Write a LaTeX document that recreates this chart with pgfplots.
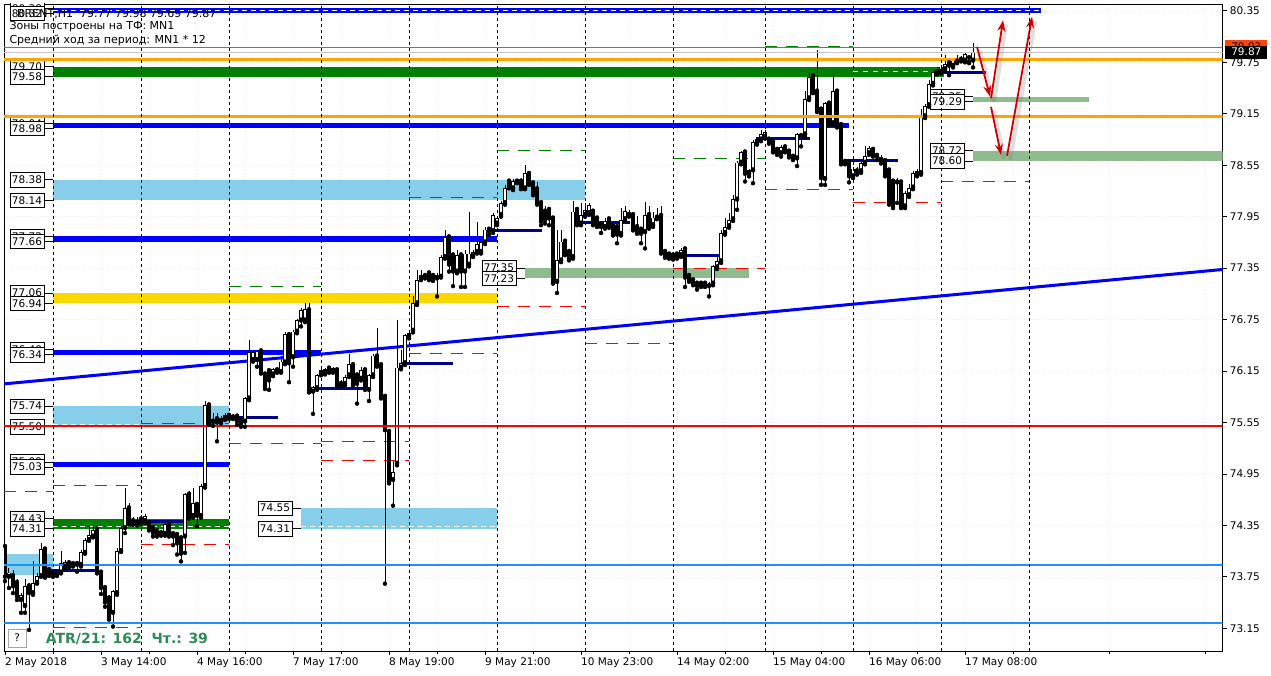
\documentclass[border=0pt]{standalone}
\usepackage{pgfplots}
\pgfplotsset{compat=1.18}
\usepackage{pgfplotstable}
\usepackage{fontspec}
\setmainfont{DejaVu Sans}
\usetikzlibrary{arrows.meta}
\definecolor{mtblue}{HTML}{0000FF}
\definecolor{mtnavy}{HTML}{00008B}
\definecolor{mtsky}{HTML}{87CEEB}
\definecolor{mtsage}{HTML}{8FBC8F}
\definecolor{mtgreen}{HTML}{008000}
\definecolor{mtgold}{HTML}{FFD700}
\definecolor{mtorange}{HTML}{FFA500}
\definecolor{mtred}{HTML}{FF0000}
\definecolor{mtdodger}{HTML}{1E90FF}
\definecolor{mtorred}{HTML}{FF4500}
\definecolor{mtarrow}{HTML}{CC0000}
\definecolor{mtatr}{HTML}{2E8B57}
\newcommand{\lblfont}{\fontsize{10.5}{12}\selectfont}
\newcommand{\hdrfont}{\fontsize{11}{13}\selectfont}
\tikzset{lblbox/.style={draw=black, fill=white, line width=0.8pt, inner sep=0pt, minimum width=34pt, minimum height=14.5pt, font=\lblfont}}
% band: color, x1, x2, p1, p2
\newcommand{\band}[5]{\fill[#1] (axis cs:#2,#4) rectangle (axis cs:#3,#5);}
% level label: box center x, connector from, connector to, price, text
\newcommand{\lvl}[5]{\draw[black, line width=0.8pt] (axis cs:#2,#4) -- (axis cs:#3,#4); \node[lblbox] at (axis cs:#1,#4) {#5};}

\pgfplotstableread{
i o h l c
0 74.10 74.18 73.70 73.75
1 73.75 73.85 73.62 73.80
2 73.76 73.83 73.56 73.64
3 73.68 73.72 73.48 73.52
4 73.48 73.56 73.33 73.54
5 73.41 73.72 73.33 73.64
6 73.64 73.68 73.13 73.56
7 73.56 73.93 73.54 73.68
8 73.68 73.80 73.67 73.76
9 73.76 74.14 73.75 74.07
10 74.07 74.10 73.74 73.76
11 73.83 73.87 73.76 73.78
12 73.79 73.83 73.75 73.80
13 73.78 73.83 73.76 73.81
14 73.80 74.05 73.79 73.91
15 73.87 73.95 73.85 73.92
16 73.91 73.93 73.86 73.88
17 73.90 73.92 73.87 73.89
18 73.90 73.93 73.81 73.89
19 73.89 74.06 73.87 74.04
20 74.03 74.20 74.02 74.18
21 74.18 74.34 74.17 74.24
22 74.22 74.34 74.21 74.30
23 74.30 74.34 73.79 73.80
24 73.80 73.82 73.55 73.62
25 73.62 73.66 73.40 73.45
26 73.50 73.54 73.25 73.28
27 73.33 73.60 73.17 73.58
28 73.56 74.09 73.54 74.05
29 74.05 74.34 74.04 74.32
30 74.32 74.79 74.26 74.55
31 74.55 74.61 74.36 74.38
32 74.40 74.45 74.36 74.38
33 74.38 74.45 74.35 74.41
34 74.42 74.47 74.37 74.40
35 74.40 74.48 74.38 74.46
36 74.38 74.40 74.29 74.31
37 74.32 74.33 74.22 74.26
38 74.28 74.30 74.22 74.24
39 74.26 74.29 74.23 74.26
40 74.25 74.39 74.23 74.37
41 74.37 74.39 74.22 74.25
42 74.25 74.27 74.12 74.22
43 74.24 74.25 74.01 74.14
44 74.20 74.24 73.93 74.02
45 74.22 74.73 74.03 74.71
46 74.71 74.75 74.43 74.45
47 74.46 74.79 74.44 74.61
48 74.59 74.62 74.34 74.46
49 74.46 74.83 74.44 74.81
50 74.81 75.80 74.79 75.75
51 75.75 75.78 75.52 75.55
52 75.56 75.66 75.51 75.59
53 75.59 75.66 75.33 75.55
54 75.56 75.63 75.54 75.60
55 75.60 75.66 75.58 75.64
56 75.63 75.65 75.59 75.61
57 75.61 75.65 75.59 75.63
58 75.62 75.64 75.52 75.56
59 75.57 75.59 75.50 75.52
60 75.56 75.85 75.50 75.83
61 75.83 76.51 75.81 76.37
62 76.28 76.39 76.26 76.37
63 76.28 76.39 76.20 76.38
64 76.38 76.40 76.12 76.13
65 76.11 76.12 75.94 75.97
66 76.15 76.19 75.93 76.04
67 76.11 76.19 76.09 76.17
68 76.16 76.20 76.13 76.15
69 76.14 76.32 76.13 76.26
70 76.25 76.60 76.23 76.58
71 76.57 76.60 76.02 76.24
72 76.31 76.63 76.20 76.61
73 76.61 76.76 76.59 76.74
74 76.74 76.88 76.67 76.86
75 76.74 76.94 76.72 76.87
76 76.86 76.94 75.90 75.92
77 75.91 75.97 75.65 75.96
78 75.95 76.12 75.93 76.10
79 76.12 76.18 76.10 76.16
80 76.14 76.19 76.11 76.17
81 76.18 76.20 76.13 76.15
82 76.15 76.20 76.13 76.18
83 76.16 76.18 75.97 75.99
84 76.00 76.04 75.97 76.01
85 76.00 76.10 75.98 76.08
86 76.10 76.35 76.08 76.23
87 76.22 76.25 75.98 76.00
88 76.10 76.12 75.77 76.00
89 76.06 76.20 76.04 76.16
90 76.16 76.18 75.93 75.95
91 75.93 76.12 75.80 76.10
92 76.10 76.35 76.08 76.33
93 76.32 76.65 76.20 76.22
94 76.22 76.24 75.83 75.85
95 75.85 75.87 73.67 75.46
96 75.44 75.46 74.84 74.86
97 74.88 75.10 74.58 74.97
98 75.07 76.74 75.05 76.19
99 76.19 76.40 76.17 76.24
100 76.24 76.58 76.22 76.57
101 76.56 76.62 76.53 76.59
102 76.62 77.02 76.60 76.94
103 76.94 77.33 76.92 77.21
104 77.23 77.33 77.21 77.27
105 77.26 77.29 77.23 77.26
106 77.29 77.31 77.21 77.23
107 77.26 77.28 77.20 77.23
108 77.23 77.29 77.02 77.27
109 77.25 77.50 77.24 77.48
110 77.48 77.80 77.46 77.71
111 77.71 77.73 77.31 77.39
112 77.50 77.52 77.14 77.31
113 77.31 77.56 77.29 77.50
114 77.50 77.52 77.13 77.31
115 77.31 77.56 77.13 77.52
116 77.39 78.01 77.37 77.52
117 77.49 77.56 77.48 77.54
118 77.54 77.89 77.52 77.63
119 77.54 77.67 77.52 77.65
120 77.65 77.83 77.63 77.80
121 77.80 77.82 77.74 77.78
122 77.78 77.99 77.76 77.97
123 77.87 77.95 77.85 77.93
124 77.97 78.13 77.95 78.11
125 78.11 78.32 78.09 78.28
126 78.36 78.38 78.28 78.30
127 78.28 78.39 78.26 78.37
128 78.36 78.39 78.34 78.37
129 78.36 78.40 78.27 78.28
130 78.28 78.55 78.27 78.46
131 78.45 78.48 78.32 78.34
132 78.34 78.36 78.20 78.22
133 78.27 78.36 78.09 78.11
134 78.11 78.13 77.85 77.89
135 78.01 78.07 77.87 77.91
136 78.03 78.05 77.85 77.93
137 77.93 77.95 77.17 77.19
138 77.19 77.80 77.06 77.44
139 77.44 77.80 77.42 77.66
140 77.66 77.68 77.50 77.52
141 77.54 77.56 77.44 77.46
142 77.48 78.13 77.46 78.01
143 78.03 78.05 77.85 77.87
144 77.87 78.11 77.85 77.97
145 77.97 78.11 77.95 78.03
146 77.99 78.11 77.97 78.09
147 78.01 78.03 77.85 77.87
148 77.93 77.95 77.83 77.85
149 77.85 77.87 77.76 77.83
150 77.83 77.93 77.81 77.90
151 77.92 77.94 77.82 77.84
152 77.84 77.86 77.73 77.75
153 77.83 77.85 77.64 77.74
154 77.75 78.05 77.73 77.91
155 77.92 78.07 77.90 78.02
156 77.97 78.03 77.95 78.01
157 77.97 77.99 77.79 77.81
158 77.83 77.96 77.75 77.77
159 77.80 77.82 77.64 77.75
160 77.77 78.12 77.58 77.97
161 77.97 78.07 77.81 77.83
162 77.85 78.01 77.83 77.94
163 77.94 78.05 77.92 77.96
164 77.96 78.07 77.52 77.54
165 77.54 77.56 77.47 77.49
166 77.51 77.53 77.46 77.48
167 77.50 77.52 77.45 77.47
168 77.51 77.53 77.46 77.48
169 77.50 77.58 77.48 77.56
170 77.57 77.59 77.13 77.24
171 77.26 77.28 77.19 77.21
172 77.21 77.23 77.15 77.17
173 77.17 77.19 77.10 77.14
174 77.17 77.19 77.13 77.15
175 77.17 77.19 77.13 77.14
176 77.14 77.19 77.02 77.17
177 77.17 77.39 77.15 77.37
178 77.36 77.48 77.34 77.43
179 77.43 77.80 77.41 77.76
180 77.76 77.93 77.74 77.83
181 77.84 77.99 77.82 77.91
182 77.92 78.20 77.90 78.16
183 78.15 78.60 78.03 78.58
184 78.58 78.72 78.56 78.70
185 78.70 78.72 78.36 78.45
186 78.45 78.51 78.42 78.49
187 78.49 78.84 78.34 78.82
188 78.81 78.88 78.79 78.85
189 78.85 78.96 78.83 78.91
190 78.88 78.96 78.86 78.94
191 78.85 78.86 78.80 78.82
192 78.82 78.83 78.70 78.71
193 78.73 78.74 78.67 78.70
194 78.69 78.79 78.65 78.76
195 78.76 78.77 78.70 78.72
196 78.71 78.72 78.64 78.66
197 78.65 78.66 78.61 78.63
198 78.63 78.93 78.54 78.91
199 78.89 78.93 78.77 78.91
200 78.91 79.41 78.88 79.32
201 79.33 79.64 79.31 79.58
202 79.59 79.62 79.39 79.41
203 79.41 79.89 79.17 79.19
204 79.20 79.22 78.32 78.40
205 78.39 79.29 78.32 79.27
206 79.27 79.29 79.02 79.04
207 79.04 79.62 79.02 79.41
208 79.41 79.43 78.99 79.01
209 79.02 79.04 78.56 78.58
210 78.59 78.61 78.56 78.58
211 78.58 78.60 78.35 78.42
212 78.42 78.53 78.40 78.51
213 78.48 78.53 78.44 78.50
214 78.48 78.59 78.46 78.57
215 78.58 78.77 78.56 78.66
216 78.69 78.77 78.67 78.75
217 78.73 78.75 78.65 78.67
218 78.66 78.69 78.61 78.65
219 78.61 78.67 78.57 78.65
220 78.60 78.62 78.42 78.44
221 78.49 78.51 78.09 78.11
222 78.36 78.38 78.05 78.07
223 78.35 78.40 78.11 78.35
224 78.35 78.37 78.05 78.07
225 78.07 78.25 78.05 78.23
226 78.20 78.33 78.18 78.28
227 78.29 78.48 78.27 78.46
228 78.44 78.50 78.42 78.48
229 78.46 79.21 78.44 79.14
230 79.12 79.26 79.10 79.24
231 79.25 79.54 79.23 79.50
232 79.50 79.66 79.48 79.64
233 79.63 79.69 79.61 79.67
234 79.64 79.72 79.62 79.70
235 79.67 79.84 79.65 79.73
236 79.74 79.80 79.60 79.71
237 79.71 79.79 79.69 79.77
238 79.76 79.84 79.74 79.80
239 79.78 79.82 79.76 79.80
240 79.77 79.86 79.75 79.85
241 79.80 79.82 79.74 79.76
242 79.77 79.98 79.69 79.87
}\candles

\begin{document}
\begin{tikzpicture}[x=1pt,y=1pt]
\path[use as bounding box] (0,0) rectangle (1271,676);
\fill[white] (0,0) rectangle (1271,676);
\begin{axis}[
  at={(4.2pt,25pt)}, anchor=south west,
  width=1218.4pt, height=647pt, scale only axis,
  xmin=-0.2, xmax=304.4, ymin=72.885, ymax=80.430,
  axis line style={black, line width=0.8pt},
  xtick={0,24,48,72,96,120,144,168,192,216,240},
  xticklabels={2 May 2018, 3 May 14:00, 4 May 16:00, 7 May 17:00, 8 May 19:00, 9 May 21:00, 10 May 23:00, 14 May 02:00, 15 May 04:00, 16 May 06:00, 17 May 08:00},
  xtick pos=bottom,
  xticklabel style={anchor=north west, inner sep=0pt, yshift=-3pt, font=\lblfont},
  ytick={73.15,73.75,74.35,74.95,75.55,76.15,76.75,77.35,77.95,78.55,79.15,79.75,80.35},
  yticklabels={73.15,73.75,74.35,74.95,75.55,76.15,76.75,77.35,77.95,78.55,79.15,79.75,80.35},
  ytick pos=right, yticklabel pos=right,
  yticklabel style={anchor=west, inner sep=0pt, xshift=3pt, font=\lblfont},
  tick align=outside, major tick length=4pt,
  tick style={black, line width=0.8pt},
  minor xtick={12,36,60,84,108,132,156,180,204,228,252,276,300},
  xmajorgrids, xminorgrids, ymajorgrids,
  major grid style={gray!15, dash pattern=on 1pt off 2pt},
  minor grid style={gray!15, dash pattern=on 1pt off 2pt},
  clip=true,
]
% ---------- zones (bands)
\band{mtsky}{-0.2}{12}{73.77}{74.02}
\band{mtblue}{12}{258.9}{80.38}{80.32}
\band{mtgreen}{12}{234.75}{79.70}{79.58}
\band{mtblue}{12}{210.9}{79.04}{78.98}
\band{mtsky}{12}{145}{78.38}{78.14}
\band{mtblue}{12}{123}{77.72}{77.66}
\band{mtgold}{12}{123}{77.06}{76.94}
\band{mtblue}{12}{79}{76.40}{76.34}
\band{mtsky}{12}{56}{75.74}{75.50}
\band{mtblue}{12}{56}{75.09}{75.03}
\band{mtgreen}{12}{56}{74.43}{74.31}
\band{mtsky}{74}{123}{74.55}{74.31}
\band{mtsage}{130}{186}{77.35}{77.23}
\band{mtsage}{242}{270.9}{79.35}{79.29}
\band{mtsage}{242}{304.4}{78.72}{78.60}
% white dashes inside zones
\addplot[white, line width=1pt, dash pattern=on 5pt off 4pt, forget plot] coordinates {(12,80.35) (258.9,80.35)};
\addplot[white, line width=1pt, dash pattern=on 5pt off 5pt, forget plot] coordinates {(212,79.64) (234.75,79.64)};
\addplot[white, line width=1pt, dash pattern=on 5pt off 4pt, forget plot] coordinates {(12,74.34) (56,74.34)};
\addplot[white, line width=1pt, dash pattern=on 5pt off 4pt, forget plot] coordinates {(74,74.34) (123,74.34)};
\addplot[white, line width=1pt, dash pattern=on 5pt off 4pt, forget plot] coordinates {(12,75.53) (34,75.53)};
% ---------- short dashed level marks
\pgfplotsset{dashlvl/.style={line width=1pt, dash pattern=on 12pt off 9pt, forget plot}}
\addplot[mtgreen, dashlvl] coordinates {(190,79.94) (212,79.94)};
\addplot[mtgreen, dashlvl] coordinates {(145,79.135) (167,79.135)};
\addplot[mtgreen, dashlvl] coordinates {(167,78.63) (190,78.63)};
\addplot[mtgreen, dashlvl] coordinates {(123,78.72) (145,78.72)};
\addplot[mtgreen, dashlvl] coordinates {(101,78.17) (123,78.17)};
\addplot[mtgreen, dashlvl] coordinates {(56,77.13) (79,77.13)};
\addplot[mtgreen, dashlvl] coordinates {(79,75.33) (101,75.33)};
\addplot[mtgreen, dashlvl] coordinates {(34,75.54) (56,75.54)};
\addplot[mtgreen, dashlvl] coordinates {(12,74.82) (34,74.82)};
\addplot[mtgreen, dashlvl] coordinates {(-0.2,74.74) (12,74.74)};
\addplot[mtred, dashlvl] coordinates {(190,78.27) (212,78.27)};
\addplot[mtred, dashlvl] coordinates {(212,78.11) (234,78.11)};
\addplot[mtred, dashlvl] coordinates {(234,78.36) (256,78.36)};
\addplot[mtred, dashlvl] coordinates {(123,76.90) (145,76.90)};
\addplot[mtred, dashlvl] coordinates {(145,76.47) (167,76.47)};
\addplot[mtred, dashlvl] coordinates {(101,76.36) (123,76.36)};
\addplot[mtred, dashlvl] coordinates {(56,75.30) (79,75.30)};
\addplot[mtred, dashlvl] coordinates {(79,75.11) (101,75.11)};
\addplot[mtred, dashlvl] coordinates {(34,74.13) (56,74.13)};
\addplot[mtred, dashlvl] coordinates {(12,73.16) (34,73.16)};
\addplot[mtred, dashlvl] coordinates {(167,77.34) (190,77.34)};
% ---------- navy daily marks
\pgfplotsset{navy/.style={mtnavy, line width=3pt, forget plot}}
\addplot[navy] coordinates {(10.75,73.82) (23,73.82)};
\addplot[navy] coordinates {(34,74.40) (44.75,74.40)};
\addplot[navy] coordinates {(56,75.61) (68.25,75.61)};
\addplot[navy] coordinates {(77,75.95) (90.25,75.95)};
\addplot[navy] coordinates {(99,76.24) (112,76.24)};
\addplot[navy] coordinates {(121,77.79) (134.3,77.79)};
\addplot[navy] coordinates {(143,77.88) (156.25,77.88)};
\addplot[navy] coordinates {(165,77.50) (178.75,77.50)};
\addplot[navy] coordinates {(187.75,78.86) (201.3,78.86)};
\addplot[navy] coordinates {(209.75,78.60) (223.3,78.60)};
\addplot[navy] coordinates {(232,79.63) (245.25,79.63)};
% ---------- trend line
\addplot[mtblue, line width=3pt, forget plot] coordinates {(-0.2,76.00) (304.4,77.334)};
% ---------- candles
\addplot[forget plot, only marks, mark=none, error bars/.cd, y dir=plus, y explicit, error mark=none,
  error bar style={black, line width=1pt}]
  table[x=i, y=l, y error plus expr=\thisrow{h}-\thisrow{l}] {\candles};
\addplot[forget plot, only marks, mark=none, error bars/.cd, y dir=plus, y explicit, error mark=none,
  error bar style={black, line width=3.6pt}]
  table[x=i, y expr={min(\thisrow{o},\thisrow{c})}, y error plus expr={max(abs(\thisrow{c}-\thisrow{o}),0.012)}] {\candles};
\addplot[forget plot, only marks, mark=none, error bars/.cd, y dir=plus, y explicit, error mark=none,
  error bar style={white, line width=2pt}]
  table[x=i, y expr={\thisrow{o}+0.010}, y error plus expr={max(\thisrow{c}-\thisrow{o}-0.020,0)}] {\candles};
% ---------- level labels
\lvl{5.5}{9.75}{12}{80.38}{80.38}
\lvl{5.5}{9.75}{12}{80.32}{80.32}
\lvl{5.5}{9.75}{12}{79.70}{79.70}
\lvl{5.5}{9.75}{12}{79.58}{79.58}
\lvl{5.5}{9.75}{12}{79.04}{79.04}
\lvl{5.5}{9.75}{12}{78.98}{78.98}
\lvl{5.5}{9.75}{12}{78.38}{78.38}
\lvl{5.5}{9.75}{12}{78.14}{78.14}
\lvl{5.5}{9.75}{12}{77.72}{77.72}
\lvl{5.5}{9.75}{12}{77.66}{77.66}
\lvl{5.5}{9.75}{12}{77.06}{77.06}
\lvl{5.5}{9.75}{12}{76.94}{76.94}
\lvl{5.5}{9.75}{12}{76.40}{76.40}
\lvl{5.5}{9.75}{12}{76.34}{76.34}
\lvl{5.5}{9.75}{12}{75.74}{75.74}
\lvl{5.5}{9.75}{12}{75.50}{75.50}
\lvl{5.5}{9.75}{12}{75.09}{75.09}
\lvl{5.5}{9.75}{12}{75.03}{75.03}
\lvl{5.5}{9.75}{12}{74.43}{74.43}
\lvl{5.5}{9.75}{12}{74.31}{74.31}
\lvl{67.5}{71.75}{74}{74.55}{74.55}
\lvl{67.5}{71.75}{74}{74.31}{74.31}
\lvl{123.5}{127.75}{130}{77.35}{77.35}
\lvl{123.5}{127.75}{130}{77.23}{77.23}
\lvl{235.5}{239.75}{242}{79.35}{79.35}
\lvl{235.5}{239.75}{242}{79.29}{79.29}
\lvl{235.5}{239.75}{242}{78.72}{78.72}
\lvl{235.5}{239.75}{242}{78.60}{78.60}
% ---------- full-width lines
\addplot[mtorred, line width=1pt, forget plot] coordinates {(-0.2,79.925) (304.4,79.925)};
\addplot[gray!45, line width=0.8pt, forget plot] coordinates {(-0.2,79.87) (304.4,79.87)};
\addplot[mtorange, line width=3pt, forget plot] coordinates {(-0.2,79.78) (304.4,79.78)};
\addplot[mtorange, line width=3pt, forget plot] coordinates {(-0.2,79.12) (304.4,79.12)};
\addplot[mtred, line width=2pt, forget plot] coordinates {(-0.2,75.51) (304.4,75.51)};
\addplot[mtdodger, line width=2pt, forget plot] coordinates {(-0.2,73.888) (304.4,73.888)};
\addplot[mtdodger, line width=2pt, forget plot] coordinates {(-0.2,73.215) (304.4,73.215)};
% ---------- arrows
\begin{scope}[xshift=3pt, yshift=-4pt]
\draw[gray, opacity=0.25, line width=4pt] (axis cs:243,79.93) -- (axis cs:246.25,79.35);
\draw[gray, opacity=0.25, line width=4pt] (axis cs:246.5,79.23) -- (axis cs:249,78.67);
\draw[gray, opacity=0.25, line width=4pt] (axis cs:246.5,79.33) -- (axis cs:249.5,80.24);
\draw[gray, opacity=0.25, line width=4pt] (axis cs:250.5,78.66) -- (axis cs:256.75,80.28);
\end{scope}
\draw[mtarrow, line width=1.8pt, -{Stealth[length=11pt,width=8pt]}] (axis cs:243,79.93) -- (axis cs:246.25,79.35);
\draw[mtarrow, line width=1.8pt, -{Stealth[length=11pt,width=8pt]}] (axis cs:246.5,79.23) -- (axis cs:249,78.67);
\draw[mtarrow, line width=1.8pt, -{Stealth[length=11pt,width=8pt]}] (axis cs:246.5,79.33) -- (axis cs:249.5,80.24);
\draw[mtarrow, line width=1.8pt, -{Stealth[length=11pt,width=8pt]}] (axis cs:250.5,78.66) -- (axis cs:256.75,80.28);
% anchors for outside labels
\coordinate (ask) at (axis cs:304.4,79.93);
\coordinate (bid) at (axis cs:304.4,79.87);
\end{axis}
% separators (day lines) drawn over the whole plot
\begin{scope}
\clip (4.2,25) rectangle (1222.6,672);
\foreach \b in {12,34,56,79,101,123,145,167,190,212,234,256}{
  \draw[black, line width=0.8pt, dash pattern=on 3pt off 3pt] ({4.2+4*(\b+0.2)},25) -- ({4.2+4*(\b+0.2)},672);
}
\end{scope}
% right price labels
\node[fill=mtorred, inner sep=0pt, minimum width=42pt, minimum height=13pt, anchor=west, font=\lblfont] at ([xshift=2.5pt]ask) {79.93};
\node[fill=black, text=white, inner sep=0pt, minimum width=42pt, minimum height=13pt, anchor=west, font=\lblfont] at ([xshift=2.5pt]bid) {79.87};
% header texts
\node[anchor=west, inner sep=0pt, font=\hdrfont] at (17,662) {BRENT,H1\ \ 79.77\ 79.98\ 79.69\ 79.87};
\node[anchor=west, inner sep=0pt, font=\hdrfont] at (9.3,649.3) {Зоны построены на ТФ: MN1};
\node[anchor=west, inner sep=0pt, font=\hdrfont] at (9.3,636) {Средний ход за период: MN1 * 12};
% bottom info
\draw[gray!70, fill=white] (8,29) rectangle (26.5,47);
\node[font=\lblfont] at (17.25,38) {?};
\node[anchor=west, inner sep=0pt, text=mtatr, font=\fontsize{14}{16}\selectfont\bfseries] at (45.7,37) {ATR/21: 162\ \ Чт.: 39};
\end{tikzpicture}
\end{document}
